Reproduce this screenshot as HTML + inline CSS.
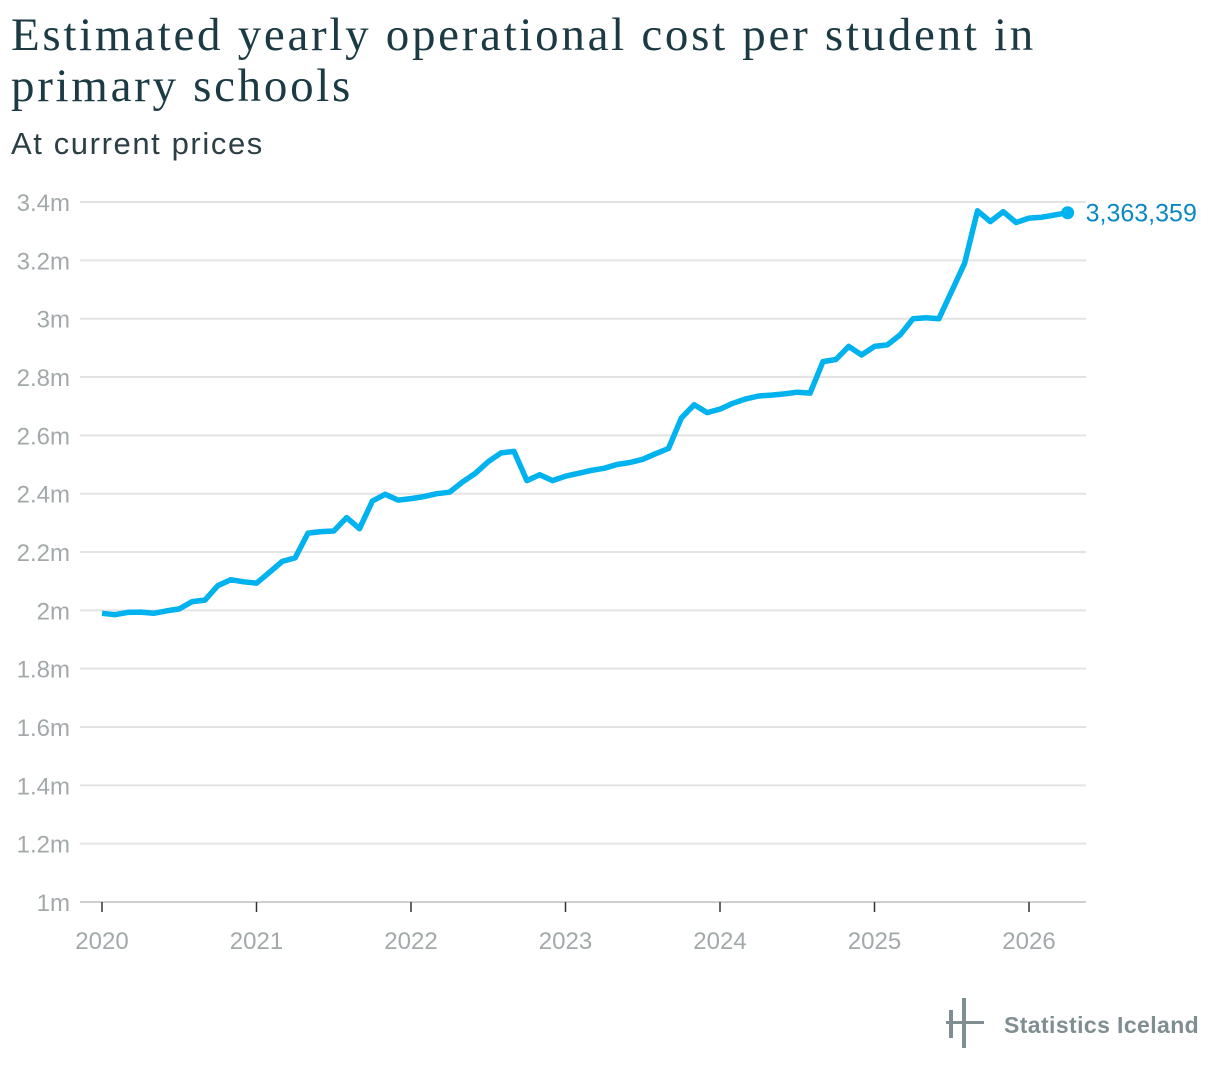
<!DOCTYPE html>
<html><head><meta charset="utf-8"><style>
body{margin:0;background:#fff;width:1220px;height:1074px;overflow:hidden;font-family:"Liberation Sans",sans-serif}
.t{position:absolute;left:11px;top:10px;font-family:"Liberation Serif",serif;font-size:47px;letter-spacing:2.7px;line-height:51px;color:#1b3a44}
.s{position:absolute;left:11px;top:126px;font-size:31px;letter-spacing:1.6px;color:#2b3f45;font-weight:300}
svg{position:absolute;left:0;top:0}
</style></head><body>
<div class="t">Estimated yearly operational cost per student in<br>primary schools</div>
<div class="s">At current prices</div>
<svg width="1220" height="1074">
<g id="grid"></g><g id="xa"></g><path id="line" fill="none" stroke="#00b2ee" stroke-width="5.5" stroke-linejoin="round"/><g id="end"></g>
<g fill="#7f8e91">
<rect x="949" y="1010" width="4" height="28"/><rect x="962" y="998" width="4" height="50"/><rect x="946" y="1021" width="38" height="3"/>
<text x="1004" y="1033" font-size="23" font-weight="bold" letter-spacing="0.4" font-family="Liberation Sans, sans-serif">Statistics Iceland</text></g>
</svg>
<script>
const yTicks=[1,1.2,1.4,1.6,1.8,2,2.2,2.4,2.6,2.8,3,3.2,3.4];
const yLabels=["1m","1.2m","1.4m","1.6m","1.8m","2m","2.2m","2.4m","2.6m","2.8m","3m","3.2m","3.4m"];
const years=[2020,2021,2022,2023,2024,2025,2026];
const startYear=2020;
const values=[1.99,1.985,1.993,1.994,1.99,1.998,2.005,2.03,2.035,2.085,2.105,2.098,
2.093,2.13,2.168,2.18,2.265,2.27,2.272,2.318,2.28,2.375,2.398,2.378,
2.383,2.39,2.40,2.405,2.44,2.47,2.51,2.54,2.545,2.445,2.465,2.445,
2.46,2.47,2.48,2.487,2.50,2.507,2.518,2.537,2.555,2.66,2.705,2.678,
2.69,2.71,2.725,2.735,2.738,2.742,2.748,2.745,2.853,2.86,2.905,2.876,
2.905,2.91,2.945,3.0,3.003,3.0,3.095,3.19,3.37,3.333,3.367,3.33,
3.345,3.348,3.356,3.363359];
const endLabel="3,363,359";
const NS="http://www.w3.org/2000/svg";
const X=t=>102+(t-startYear)*154.5;
const Y=v=>902-(v-1)/0.2*58.33;
function mk(tag,attrs,parent,txt){const e=document.createElementNS(NS,tag);for(const k in attrs)e.setAttribute(k,attrs[k]);if(txt!=null)e.textContent=txt;parent.appendChild(e);return e;}
const g=document.getElementById('grid');
yTicks.forEach((v,i)=>{
 const l=mk('line',{x1:80,x2:1086,y1:Y(v),y2:Y(v),stroke:i==0?'#cfcfcf':'#e3e3e3','stroke-width':2},g);
 
 
 const t=mk('text',{x:70,y:Y(v)+9,'text-anchor':'end','font-size':24,fill:'#a3a9ab'},g,yLabels[i]);
 
 
});
const xa=document.getElementById('xa');
years.forEach(yr=>{
 const l=mk('line',{x1:X(yr),x2:X(yr),y1:902,y2:912,stroke:'#333','stroke-width':1.5},xa);
 
 
 const t=mk('text',{x:X(yr),y:949,'text-anchor':'middle','font-size':24,fill:'#a3a9ab'},xa,String(yr));
 
 
});
const ln=document.getElementById('line');
ln.setAttribute('d',values.map((v,i)=>(i?'L':'M')+X(startYear+i/12).toFixed(1)+','+Y(v).toFixed(1)).join(''));


const e=document.getElementById('end');
const li=values.length-1;
const c=mk('circle',{cx:X(startYear+li/12),cy:Y(values[li]),r:6.5,fill:'#00b2ee'},e);


const lt=mk('text',{x:X(startYear+li/12)+18,y:Y(values[li])+9,'font-size':25,fill:'#0a88c4'},e,endLabel);


</script>
</body></html>
